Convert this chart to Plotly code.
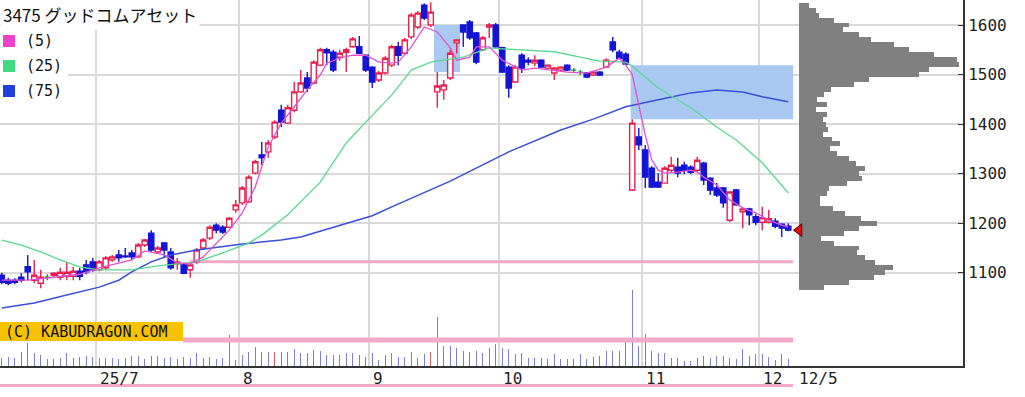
import plotly.graph_objects as go

# ---------------- data ----------------
title_text = "3475 グッドコムアセット"

opens = [1095,1085,1085,1091,1112,1085,1079,1091,1095,1091,1093,1093,1103,1116,1122,1106,1110,1126,1136,1134,
         1140,1132,1156,1180,1142,1160,1142,1118,1116,1106,1122,1150,1170,1196,1192,1192,1227,1241,1243,1301,
         1338,1344,1374,1428,1402,1428,1465,1493,1483,1519,1550,1545,1535,1545,1556,1556,1539,1515,1489,1503,
         1519,1556,1543,1576,1596,1640,1600,1465,1469,1493,1564,1600,1606,1584,1550,1596,1600,1554,1515,1485,
         1539,1529,1523,1529,1513,1503,1509,1519,1509,1505,1503,1499,1505,1515,1566,1545,1541,1267,1374,1348,
         1311,1283,1281,1307,1313,1317,1313,1307,1321,1291,1271,1271,1206,1267,1223,1229,1213,1202,1202,1204,
         1198,1194]
highs = [1100,1090,1089,1099,1136,1126,1106,1097,1101,1110,1122,1112,1110,1126,1130,1126,1134,1136,1146,1150,
         1146,1160,1168,1186,1154,1162,1150,1130,1120,1118,1150,1170,1196,1200,1196,1212,1247,1275,1297,1328,
         1364,1368,1408,1439,1439,1485,1509,1505,1529,1554,1554,1550,1550,1554,1576,1578,1541,1517,1507,1537,
         1560,1566,1574,1624,1628,1644,1646,1505,1489,1550,1570,1600,1610,1586,1578,1604,1604,1556,1519,1519,
         1543,1535,1539,1531,1521,1515,1517,1521,1513,1509,1505,1507,1507,1533,1576,1550,1545,1410,1392,1358,
         1315,1301,1315,1334,1332,1324,1317,1334,1324,1293,1281,1273,1263,1269,1231,1231,1219,1233,1227,1210,
         1200,1200]
lows = [1077,1075,1077,1081,1085,1079,1069,1085,1091,1085,1085,1085,1085,1097,1102,1103,1106,1122,1122,1130,
        1126,1130,1152,1142,1140,1132,1106,1106,1097,1090,1118,1146,1166,1180,1178,1190,1221,1237,1241,1299,
        1317,1332,1370,1394,1400,1424,1463,1465,1481,1517,1519,1505,1528,1505,1554,1541,1505,1473,1485,1500,
        1515,1519,1540,1572,1592,1610,1596,1433,1449,1489,1543,1556,1570,1521,1547,1574,1554,1503,1453,1483,
        1503,1519,1517,1513,1511,1489,1505,1507,1503,1499,1493,1497,1497,1513,1545,1531,1519,1265,1348,1271,
        1271,1271,1281,1303,1293,1299,1299,1303,1277,1257,1253,1231,1202,1235,1190,1196,1196,1186,1200,1190,
        1172,1184]
closes = [1081,1079,1081,1085,1102,1095,1091,1091,1099,1101,1101,1103,1093,1102,1106,1122,1130,1132,1130,1132,
          1132,1156,1166,1146,1150,1146,1110,1122,1099,1116,1146,1166,1192,1186,1182,1210,1237,1271,1293,1324,
          1332,1362,1404,1404,1433,1465,1483,1473,1525,1550,1544,1509,1543,1550,1572,1543,1509,1485,1503,1533,
          1556,1539,1570,1620,1624,1614,1626,1477,1479,1543,1570,1586,1574,1525,1574,1600,1556,1505,1473,1515,
          1513,1525,1529,1515,1519,1513,1515,1509,1509,1505,1495,1505,1499,1529,1550,1533,1521,1402,1358,1293,
          1273,1273,1311,1317,1301,1307,1303,1327,1287,1267,1257,1241,1263,1237,1229,1217,1202,1211,1209,1194,
          1190,1186]

volumes = [8,9,8,14,23,13,11,7,7,8,13,8,9,10,9,8,8,8,7,8,10,10,7,10,10,8,9,7,9,8,13,8,9,7,8,31,6,11,
           14,19,14,14,14,14,14,17,13,13,16,15,11,11,11,13,13,11,9,13,6,11,13,9,
           9,14,8,12,14,49,20,20,18,15,14,15,13,18,22,18,17,12,13,8,8,8,7,12,7,7,7,12,7,9,10,15,15,15,25,
           76,20,32,15,13,13,8,8,5,5,8,10,8,10,10,8,7,17,10,12,12,9,6,12,7]
red_volume_days = [3, 23, 42, 66, 84, 107]

ma5_idx = [0,4,8,12,15,20,22,25,27,29,31,33,35,37,39,41,43,45,47,49,50,52,54,56,58,60,61,63,65,67,69,70,72,73,75,
           77,80,82,85,87,90,93,95,96,97,98,99,100,101,102,104,106,107,108,110,112,114,116,118,120,121]
ma5_val = [1085,1085,1091,1097,1110,1126,1144,1136,1120,1118,1132,1160,1186,1221,1273,1354,1402,1435,1469,1499,
           1523,1533,1539,1539,1525,1523,1525,1556,1596,1586,1554,1529,1535,1556,1556,1529,1509,1513,1509,1505,
           1503,1515,1533,1519,1500,1439,1378,1328,1307,1301,1303,1307,1303,1293,1277,1247,1231,1221,1206,1196,1192]
ma25_idx = [0,3,6,9,12,15,20,24,27,30,34,38,40,44,49,53,56,60,63,66,71,75,77,82,85,89,92,96,97,101,106,110,113,117,120,121]
ma25_val = [1166,1156,1142,1126,1112,1106,1106,1114,1118,1122,1140,1160,1176,1217,1283,1362,1404,1459,1509,1525,
            1535,1554,1552,1548,1546,1535,1527,1525,1517,1473,1433,1394,1368,1322,1275,1261]
ma75_idx = [0,5,10,15,18,20,23,26,30,37,43,46,50,57,60,69,78,86,91,96,101,106,110,114,117,121]
ma75_val = [1029,1039,1055,1071,1085,1102,1122,1136,1146,1158,1166,1172,1188,1215,1233,1285,1344,1388,1410,1435,
            1449,1463,1469,1465,1455,1445]

prof_price = [1640,1630,1620,1610,1600,1590,1580,1570,1560,1550,1540,1530,1520,1510,1500,1490,1480,1470,1460,1450,
              1440,1430,1420,1410,1400,1390,1380,1370,1360,1350,1340,1330,1320,1310,1300,1290,1280,1270,1260,1250,
              1240,1230,1220,1210,1200,1190,1180,1170,1160,1150,1140,1130,1120,1110,1100,1090,1080,1070]
prof_vol = [10,17,20,35,50,44,60,72,95,110,135,158,160,130,120,70,55,32,25,18,28,17,28,24,27,29,24,33,41,31,
            38,50,57,66,60,63,48,30,28,21,21,34,46,62,78,60,45,22,35,60,58,66,76,94,86,75,50,25]

month_bounds = [14.5, 36.5, 56.5, 76.5, 98.5, 116.5]
month_labels = ["25/7", "8", "9", "10", "11", "12"]
last_label = "12/5"
price_ticks = [1100, 1200, 1300, 1400, 1500, 1600]

# gaps (windows): start idx, end idx, low price, high price
gaps = [(66.5, 70.5, 1505, 1600), (96.75, 121.75, 1410, 1519)]
support_level = (29, 121.75, 1122)
volume_level = (27.9, 121.75, 26)

legend_items = [("(5)", "#f040c8"), ("(25)", "#40d880"), ("(75)", "#2040e0")]

# ---------------- figure ----------------
W, H = 1025, 397
PLOT_R = 963
PRICE_BOTTOM = 366
px_per_idx = 6.5
x0_px = 1.75
x_range = [(0 - x0_px) / px_per_idx, (PLOT_R - x0_px) / px_per_idx]
yen_per_px = 2.018
y_range = [1600 - (PRICE_BOTTOM - 25) * yen_per_px, 1600 + 25 * yen_per_px]

RED = "#e8204e"
BLUE = "#1414d4"
GREEN = "#1f8f2a"
PINK = "#f4a9c9"

n = len(closes)
idx = list(range(n))
up = [i for i in idx if closes[i] > opens[i]]
dn = [i for i in idx if closes[i] < opens[i]]
eq = [i for i in idx if closes[i] == opens[i]]

fig = go.Figure()


def candle(sel, line_col, fill_col):
    return go.Candlestick(
        x=sel, open=[opens[i] for i in sel], high=[highs[i] for i in sel],
        low=[lows[i] for i in sel], close=[closes[i] for i in sel],
        increasing=dict(line=dict(color=line_col, width=1.4), fillcolor=fill_col),
        decreasing=dict(line=dict(color=line_col, width=1.4), fillcolor=fill_col),
        whiskerwidth=0, showlegend=False, hoverinfo="skip")


fig.add_trace(go.Scatter(x=ma75_idx, y=ma75_val, mode="lines", line=dict(color="#3a4fd6", width=1.5),
                         showlegend=False, hoverinfo="skip"))
fig.add_trace(go.Scatter(x=ma25_idx, y=ma25_val, mode="lines", line=dict(color="#5ad890", width=1.3),
                         showlegend=False, hoverinfo="skip"))
fig.add_trace(go.Scatter(x=ma5_idx, y=ma5_val, mode="lines", line=dict(color="#e052cf", width=1.3),
                         showlegend=False, hoverinfo="skip"))
fig.add_trace(candle(up, RED, "white"))
fig.add_trace(candle(dn, BLUE, BLUE))
fig.add_trace(candle(eq, GREEN, GREEN))

# volume panel
fig.add_trace(go.Scatter(x=[volume_level[0], volume_level[1]], y=[volume_level[2], volume_level[2]],
                         mode="lines", line=dict(color=PINK, width=5), xaxis="x", yaxis="y2",
                         showlegend=False, hoverinfo="skip"))
vol_colors = ["#d65c5c" if i in red_volume_days else "#7c7cdc" for i in idx]
fig.add_trace(go.Bar(x=idx, y=volumes, width=0.2, marker=dict(color=vol_colors, line=dict(width=0)),
                     xaxis="x", yaxis="y2", showlegend=False, hoverinfo="skip"))

# price-volume profile
fig.add_trace(go.Bar(x=prof_vol, y=prof_price, orientation="h", width=10,
                     marker=dict(color="#808080", line=dict(width=0)),
                     xaxis="x2", yaxis="y", showlegend=False, hoverinfo="skip"))
fig.add_trace(go.Scatter(x=[0], y=[closes[-1]], mode="markers", xaxis="x2", yaxis="y",
                         marker=dict(symbol="triangle-left", size=11, color="#e01010",
                                     line=dict(color="#5a0000", width=1)),
                         showlegend=False, hoverinfo="skip"))

shapes = []
for (s, e, lo, hi) in gaps:
    shapes.append(dict(type="rect", xref="x", yref="y", x0=s, x1=e, y0=lo, y1=hi,
                       fillcolor="#a9c9f3", line=dict(width=0), layer="between"))
shapes.append(dict(type="line", xref="x", yref="y", x0=support_level[0], x1=support_level[1],
                   y0=support_level[2], y1=support_level[2], line=dict(color=PINK, width=3), layer="between"))
# bottom pink band under the date labels
shapes.append(dict(type="line", xref="paper", yref="paper", x0=0, x1=793 / W, y0=1 - 385.5 / H, y1=1 - 385.5 / H,
                   line=dict(color=PINK, width=3)))
# copyright box
shapes.append(dict(type="rect", xref="paper", yref="paper", x0=0, x1=183 / W, y0=1 - 341 / H, y1=1 - 322 / H,
                   fillcolor="#f7c300", line=dict(width=0)))

annotations = [dict(text="(C) KABUDRAGON.COM", xref="paper", yref="paper", x=3 / W, y=1 - 331.5 / H,
                    xanchor="left", yanchor="middle", showarrow=False,
                    font=dict(family="DejaVu Sans Mono", size=15, color="#111"))]

# title
annotations.append(dict(text=title_text, xref="paper", yref="paper", x=0, y=1 - 15 / H, xanchor="left",
                        yanchor="middle", showarrow=False, bgcolor="white", borderpad=2,
                        font=dict(family="Noto Sans CJK JP", size=17, color="#111")))
# legend
for k, (lab, col) in enumerate(legend_items):
    yc = 41 + 25 * k
    shapes.append(dict(type="rect", xref="paper", yref="paper", x0=0, x1=68 / W,
                       y0=1 - (yc + 11) / H, y1=1 - (yc - 11) / H, fillcolor="white", line=dict(width=0)))
    shapes.append(dict(type="rect", xref="paper", yref="paper", x0=3 / W, x1=15 / W,
                       y0=1 - (yc + 6) / H, y1=1 - (yc - 6) / H, fillcolor=col, line=dict(width=0)))
    annotations.append(dict(text=lab, xref="paper", yref="paper", x=24 / W, y=1 - yc / H, xanchor="left",
                            yanchor="middle", showarrow=False,
                            font=dict(family="DejaVu Sans Mono", size=15, color="#111")))
# month labels
for b, lab in zip(month_bounds, month_labels):
    annotations.append(dict(text=lab, xref="x", yref="paper", x=b, y=1 - 378 / H, xanchor="left", xshift=2,
                            yanchor="middle", showarrow=False,
                            font=dict(family="DejaVu Sans Mono", size=16, color="#222")))
annotations.append(dict(text=last_label, xref="x", yref="paper", x=n - 1, y=1 - 378 / H, xanchor="left",
                        xshift=9, yanchor="middle", showarrow=False,
                        font=dict(family="DejaVu Sans Mono", size=16, color="#222")))

fig.update_layout(
    width=W, height=H, margin=dict(l=0, r=0, t=0, b=0),
    paper_bgcolor="white", plot_bgcolor="white",
    showlegend=False, boxgap=0.15, boxgroupgap=0.05,
    shapes=shapes, annotations=annotations,
    xaxis=dict(domain=[0, PLOT_R / W], range=x_range, tickvals=month_bounds, showticklabels=False,
               showgrid=True, gridcolor="#d9d9d9", gridwidth=2, zeroline=False, ticks="",
               showline=True, linecolor="#333", linewidth=2, rangeslider=dict(visible=False), fixedrange=True),
    yaxis=dict(domain=[1 - PRICE_BOTTOM / H, 1], range=y_range, side="right", tickvals=price_ticks,
               ticks="inside", ticklen=5, tickcolor="#333", showgrid=True, gridcolor="#d9d9d9", gridwidth=2,
               zeroline=False, showline=True, linecolor="#333", linewidth=2,
               tickfont=dict(family="DejaVu Sans Mono", size=16, color="#222"), fixedrange=True),
    yaxis2=dict(overlaying="y", range=[0, PRICE_BOTTOM], visible=False, fixedrange=True),
    xaxis2=dict(overlaying="x", range=[-799, PLOT_R - 799], visible=False, fixedrange=True),
    bargap=0,
)

fig.write_html("out.html", config={"displayModeBar": False, "staticPlot": True})
